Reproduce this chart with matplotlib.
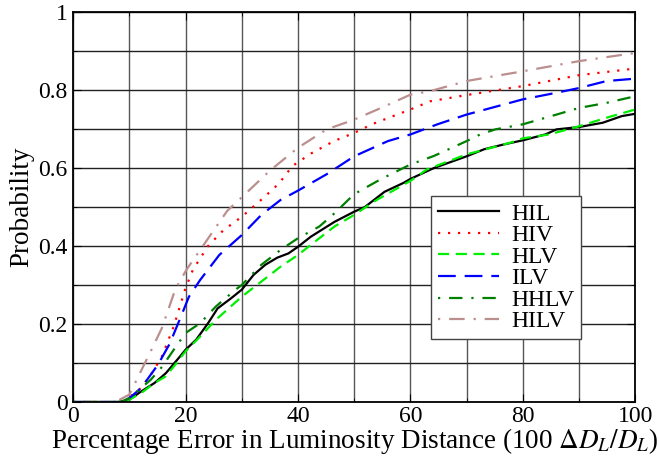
import matplotlib
matplotlib.use("Agg")
import matplotlib.pyplot as plt
from matplotlib.ticker import MultipleLocator, FuncFormatter

plt.rcParams["font.family"] = ["Liberation Serif", "DejaVu Serif"]
plt.rcParams["mathtext.fontset"] = "stix"

# HIL
hil_x = [0, 8, 10, 12.1, 14.5, 16.5, 18.5, 20, 21.9, 24, 25.7, 28.1, 30, 32.1, 34.2, 36.3, 38.3,
         40, 42.3, 46.5, 50, 51.9, 55.4, 58.8, 60, 64.2, 70, 73.1, 76.5, 80, 84, 86, 90, 94.2, 97.6, 100]
hil_y = [0, 0, 0.006, 0.027, 0.049, 0.074, 0.108, 0.134, 0.16, 0.202, 0.24, 0.266, 0.288, 0.326, 0.352,
         0.37, 0.381, 0.398, 0.424, 0.462, 0.488, 0.50, 0.539, 0.562, 0.572, 0.60, 0.63, 0.648, 0.66,
         0.671, 0.686, 0.699, 0.705, 0.716, 0.733, 0.739]
# HIV
hiv_x = [0, 9, 12.1, 14.1, 15.8, 17.9, 19.9, 21.3, 24, 26.7, 30, 33.9, 36.6, 39, 42.3, 46.4, 50,
         53.3, 60, 63.5, 70, 80, 90, 100]
hiv_y = [0, 0, 0.036, 0.076, 0.117, 0.194, 0.288, 0.339, 0.40, 0.44, 0.475, 0.524, 0.56, 0.605,
         0.637, 0.669, 0.69, 0.713, 0.75, 0.771, 0.787, 0.81, 0.838, 0.855]
# HLV
hlv_x = [0, 8.5, 10, 12.1, 14.5, 16.5, 17.9, 20, 22.6, 25.4, 30, 33.5, 36.9, 40, 43.8, 46.5, 50,
         54, 60, 62.9, 70, 77.8, 80, 84.7, 90, 94.9, 100]
hlv_y = [0, 0, 0.006, 0.023, 0.049, 0.066, 0.091, 0.13, 0.168, 0.211, 0.27, 0.309, 0.347, 0.377,
         0.42, 0.45, 0.48, 0.518, 0.567, 0.596, 0.635, 0.665, 0.676, 0.686, 0.707, 0.729, 0.75]
# ILV
ilv_x = [0, 8.5, 10, 12.1, 15.1, 17.2, 19.2, 20.6, 22.6, 26, 30, 33.5, 36.9, 40, 45.1, 50, 56, 60,
         64.8, 70, 80, 86, 90, 94.9, 100]
ilv_y = [0, 0, 0.01, 0.036, 0.096, 0.15, 0.22, 0.27, 0.313, 0.377, 0.428, 0.48, 0.518, 0.542,
         0.584, 0.63, 0.669, 0.686, 0.712, 0.737, 0.776, 0.793, 0.805, 0.823, 0.829]
# HHLV
hhlv_x = [0, 8.5, 10, 13.8, 15.8, 17.9, 20, 22.6, 25.4, 28.8, 30, 33.5, 36.9, 40, 43.8, 46.5, 50,
          54.7, 60, 64.2, 70, 72.4, 75.1, 80, 86, 90, 94.9, 100]
hhlv_y = [0, 0, 0.01, 0.057, 0.09, 0.134, 0.177, 0.202, 0.245, 0.287, 0.30, 0.352, 0.39, 0.42,
          0.45, 0.484, 0.533, 0.571, 0.609, 0.631, 0.669, 0.686, 0.699, 0.712, 0.737, 0.754, 0.767,
          0.784]
# HILV
hilv_x = [0, 7.5, 10, 13.8, 15.8, 18.2, 20.2, 22.6, 27.4, 30, 34.9, 40, 45.1, 50, 55.4, 60, 63.5,
          70, 80, 90, 100]
hilv_y = [0, 0, 0.019, 0.13, 0.19, 0.29, 0.34, 0.39, 0.49, 0.525, 0.592, 0.652, 0.699, 0.724,
          0.758, 0.788, 0.797, 0.823, 0.848, 0.874, 0.895]

series = [
    ("HIL", hil_x, hil_y, "black", "-"),
    ("HIV", hiv_x, hiv_y, "red", (0, (1, 3.5))),
    ("HLV", hlv_x, hlv_y, "#00ee00", (0, (5, 3))),
    ("ILV", ilv_x, ilv_y, "blue", (0, (8, 4))),
    ("HHLV", hhlv_x, hhlv_y, "green", (0, (1, 4, 6, 4))),
    ("HILV", hilv_x, hilv_y, "#bc8f8f", (0, (1, 4, 7, 4))),
]

fig = plt.figure(figsize=(6.59, 4.61), dpi=100)
ax = fig.add_axes([0.111, 0.128, 0.853, 0.846])

for name, xs, ys, color, ls in series:
    ax.plot(xs, ys, color=color, linestyle=ls, linewidth=1.6, label=name)

ax.set_xlim(0, 100)
ax.set_ylim(0, 1)
ax.xaxis.set_major_locator(MultipleLocator(20))
ax.xaxis.set_minor_locator(MultipleLocator(10))
ax.yaxis.set_major_locator(MultipleLocator(0.2))
ax.yaxis.set_minor_locator(MultipleLocator(0.1))
ax.yaxis.set_major_formatter(FuncFormatter(lambda v, p: f"{v:g}"))
ax.grid(True, which="both", axis="x", color="#555555", linewidth=1.0)
ax.grid(True, which="both", axis="y", color="#222222", linewidth=1.0)
ax.tick_params(which="both", direction="in", top=True, right=True, labelsize=17)
ax.tick_params(axis="x", pad=3)
ax.tick_params(axis="y", pad=4)
ax.tick_params(which="major", length=6)
ax.tick_params(which="minor", length=3)
for s in ax.spines.values():
    s.set_linewidth(1.3)

ax.set_xlabel(r"Percentage Error in Luminosity Distance (100 $\Delta D_L/D_L$)", fontsize=19.5, labelpad=-1)
ax.set_ylabel("Probability", fontsize=19.5, labelpad=3)

leg = ax.legend(loc="upper left", bbox_to_anchor=(0.636, 0.528), borderaxespad=0, fontsize=17,
                fancybox=False, framealpha=1, edgecolor="#444444", handlelength=2.6,
                labelspacing=0.0, borderpad=0.3, handletextpad=0.5)
leg.get_frame().set_linewidth(1.0)

fig.savefig("out.png", dpi=100, facecolor="white")
